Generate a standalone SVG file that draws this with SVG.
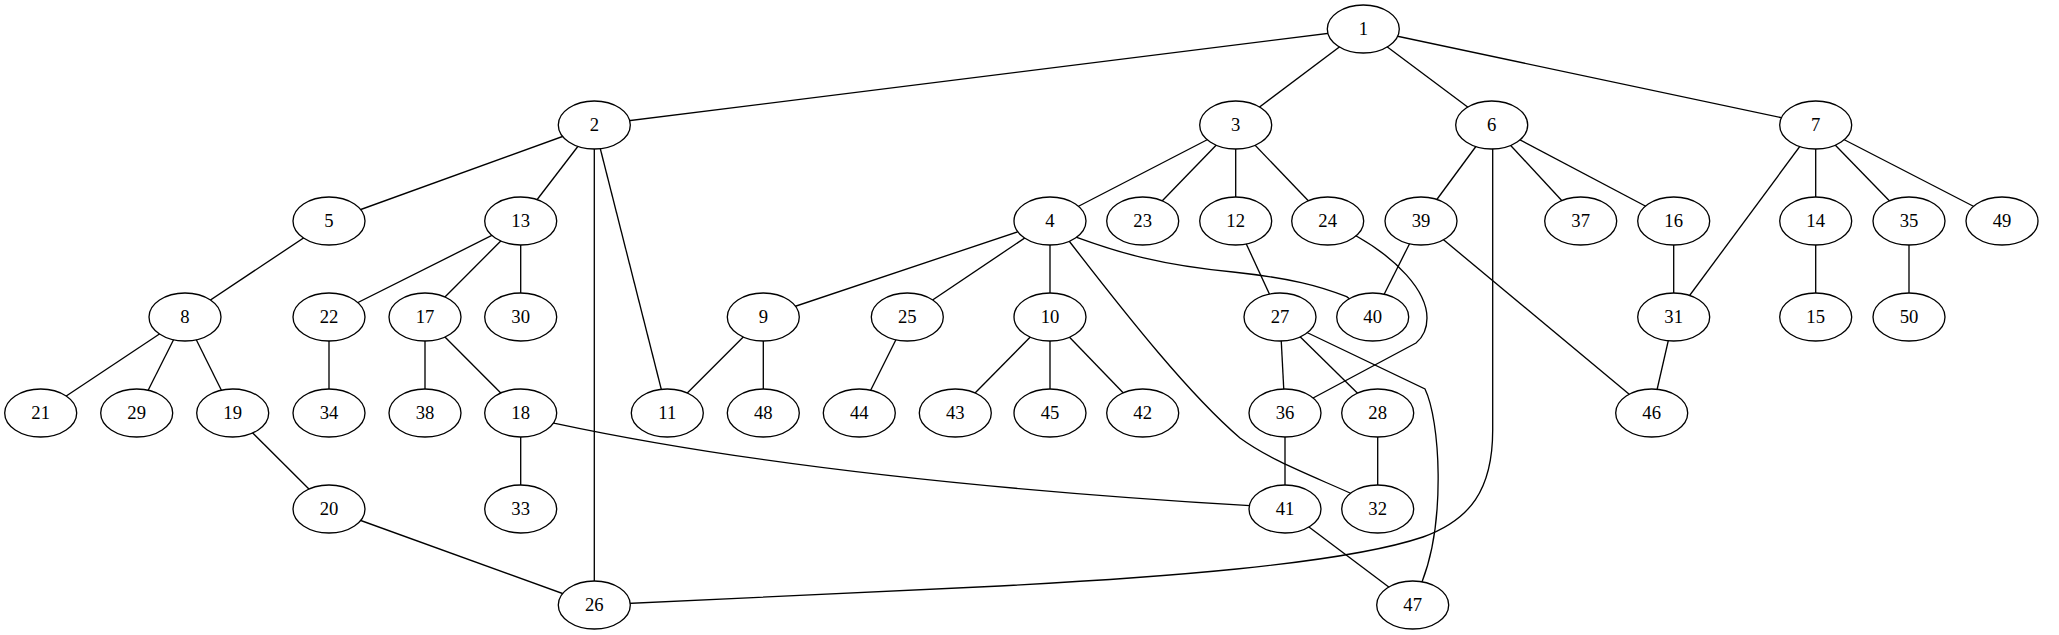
<svg xmlns="http://www.w3.org/2000/svg" width="2059" height="635" viewBox="0 0 2059 635">
<style>
.e{fill:none;stroke:#000;stroke-width:1.33}
.n ellipse{fill:#fff;stroke:#000;stroke-width:1.33}
.n text{font-family:"Liberation Serif","Times New Roman",serif;font-size:18.67px;text-anchor:middle;fill:#000}
</style>
<rect width="2059" height="635" fill="#fff"/>
<g id="edges" class="e">
<line x1="1363.3" y1="29" x2="594.3" y2="125"/>
<line x1="1363.3" y1="29" x2="1235.7" y2="125"/>
<line x1="1363.3" y1="29" x2="1491.7" y2="125"/>
<line x1="1363.3" y1="29" x2="1815.7" y2="125"/>
<line x1="594.3" y1="125" x2="329" y2="221"/>
<line x1="594.3" y1="125" x2="520.7" y2="221"/>
<line x1="594.3" y1="125" x2="594.3" y2="605"/>
<line x1="594.3" y1="125" x2="667.3" y2="413"/>
<line x1="1235.7" y1="125" x2="1050" y2="221"/>
<line x1="1235.7" y1="125" x2="1142.7" y2="221"/>
<line x1="1235.7" y1="125" x2="1235.7" y2="221"/>
<line x1="1235.7" y1="125" x2="1327.7" y2="221"/>
<line x1="1491.7" y1="125" x2="1421" y2="221"/>
<line x1="1491.7" y1="125" x2="1580.7" y2="221"/>
<line x1="1491.7" y1="125" x2="1673.7" y2="221"/>
<path d="M1492.7,125 L1492.7,430 C1492.7,490 1470,520 1423,537 C1340,565 1150,578 1000,586 L594.3,605"/>
<line x1="1815.7" y1="125" x2="1673.7" y2="317"/>
<line x1="1815.7" y1="125" x2="1815.7" y2="221"/>
<line x1="1815.7" y1="125" x2="1909" y2="221"/>
<line x1="1815.7" y1="125" x2="2002" y2="221"/>
<line x1="329" y1="221" x2="185" y2="317"/>
<line x1="520.7" y1="221" x2="329" y2="317"/>
<line x1="520.7" y1="221" x2="425" y2="317"/>
<line x1="520.7" y1="221" x2="520.7" y2="317"/>
<line x1="1050" y1="221" x2="763.3" y2="317"/>
<line x1="1050" y1="221" x2="907.3" y2="317"/>
<line x1="1050" y1="221" x2="1050" y2="317"/>
<path d="M1050,221 L1076.7,237.3 C1120,253 1160,265 1233,272 C1290,278 1320,286 1346.7,296.7 L1372.7,317"/>
<path d="M1050,221 L1066,237 C1130,320 1190,395 1240,438 C1270,460 1310,475 1350,493 L1377.7,509"/>
<line x1="1235.7" y1="221" x2="1280" y2="317"/>
<path d="M1327.7,221 L1358,237 C1395,258 1427,290 1427,318 C1427,330 1422,338 1416,343 L1285,413"/>
<line x1="1421" y1="221" x2="1372.7" y2="317"/>
<line x1="1421" y1="221" x2="1651.7" y2="413"/>
<line x1="1673.7" y1="221" x2="1673.7" y2="317"/>
<line x1="1815.7" y1="221" x2="1815.7" y2="317"/>
<line x1="1909" y1="221" x2="1909" y2="317"/>
<line x1="185" y1="317" x2="40.7" y2="413"/>
<line x1="185" y1="317" x2="136.7" y2="413"/>
<line x1="185" y1="317" x2="232.7" y2="413"/>
<line x1="329" y1="317" x2="329" y2="413"/>
<line x1="425" y1="317" x2="425" y2="413"/>
<line x1="425" y1="317" x2="520.7" y2="413"/>
<line x1="763.3" y1="317" x2="667.3" y2="413"/>
<line x1="763.3" y1="317" x2="763.3" y2="413"/>
<line x1="907.3" y1="317" x2="859.3" y2="413"/>
<line x1="1050" y1="317" x2="955.3" y2="413"/>
<line x1="1050" y1="317" x2="1050" y2="413"/>
<line x1="1050" y1="317" x2="1142.7" y2="413"/>
<line x1="1280" y1="317" x2="1285" y2="413"/>
<line x1="1280" y1="317" x2="1377.7" y2="413"/>
<path d="M1280,317 L1308,333 L1425,389 C1440,420 1446,520 1422,582 L1412.7,605"/>
<line x1="1673.7" y1="317" x2="1651.7" y2="413"/>
<line x1="232.7" y1="413" x2="329" y2="509"/>
<line x1="520.7" y1="413" x2="520.7" y2="509"/>
<path d="M520.7,413 L555,423.3 Q820,480 1250,505.7 L1285,509"/>
<line x1="1285" y1="413" x2="1285" y2="509"/>
<line x1="1377.7" y1="413" x2="1377.7" y2="509"/>
<line x1="329" y1="509" x2="594.3" y2="605"/>
<line x1="1285" y1="509" x2="1412.7" y2="605"/>
</g>
<g id="n1" class="n"><ellipse cx="1363.3" cy="29" rx="36" ry="24"/><text x="1363.3" y="35">1</text></g>
<g id="n2" class="n"><ellipse cx="594.3" cy="125" rx="36" ry="24"/><text x="594.3" y="131">2</text></g>
<g id="n3" class="n"><ellipse cx="1235.7" cy="125" rx="36" ry="24"/><text x="1235.7" y="131">3</text></g>
<g id="n6" class="n"><ellipse cx="1491.7" cy="125" rx="36" ry="24"/><text x="1491.7" y="131">6</text></g>
<g id="n7" class="n"><ellipse cx="1815.7" cy="125" rx="36" ry="24"/><text x="1815.7" y="131">7</text></g>
<g id="n5" class="n"><ellipse cx="329" cy="221" rx="36" ry="24"/><text x="329" y="227">5</text></g>
<g id="n13" class="n"><ellipse cx="520.7" cy="221" rx="36" ry="24"/><text x="520.7" y="227">13</text></g>
<g id="n4" class="n"><ellipse cx="1050" cy="221" rx="36" ry="24"/><text x="1050" y="227">4</text></g>
<g id="n23" class="n"><ellipse cx="1142.7" cy="221" rx="36" ry="24"/><text x="1142.7" y="227">23</text></g>
<g id="n12" class="n"><ellipse cx="1235.7" cy="221" rx="36" ry="24"/><text x="1235.7" y="227">12</text></g>
<g id="n24" class="n"><ellipse cx="1327.7" cy="221" rx="36" ry="24"/><text x="1327.7" y="227">24</text></g>
<g id="n39" class="n"><ellipse cx="1421" cy="221" rx="36" ry="24"/><text x="1421" y="227">39</text></g>
<g id="n37" class="n"><ellipse cx="1580.7" cy="221" rx="36" ry="24"/><text x="1580.7" y="227">37</text></g>
<g id="n16" class="n"><ellipse cx="1673.7" cy="221" rx="36" ry="24"/><text x="1673.7" y="227">16</text></g>
<g id="n14" class="n"><ellipse cx="1815.7" cy="221" rx="36" ry="24"/><text x="1815.7" y="227">14</text></g>
<g id="n35" class="n"><ellipse cx="1909" cy="221" rx="36" ry="24"/><text x="1909" y="227">35</text></g>
<g id="n49" class="n"><ellipse cx="2002" cy="221" rx="36" ry="24"/><text x="2002" y="227">49</text></g>
<g id="n8" class="n"><ellipse cx="185" cy="317" rx="36" ry="24"/><text x="185" y="323">8</text></g>
<g id="n22" class="n"><ellipse cx="329" cy="317" rx="36" ry="24"/><text x="329" y="323">22</text></g>
<g id="n17" class="n"><ellipse cx="425" cy="317" rx="36" ry="24"/><text x="425" y="323">17</text></g>
<g id="n30" class="n"><ellipse cx="520.7" cy="317" rx="36" ry="24"/><text x="520.7" y="323">30</text></g>
<g id="n9" class="n"><ellipse cx="763.3" cy="317" rx="36" ry="24"/><text x="763.3" y="323">9</text></g>
<g id="n25" class="n"><ellipse cx="907.3" cy="317" rx="36" ry="24"/><text x="907.3" y="323">25</text></g>
<g id="n10" class="n"><ellipse cx="1050" cy="317" rx="36" ry="24"/><text x="1050" y="323">10</text></g>
<g id="n27" class="n"><ellipse cx="1280" cy="317" rx="36" ry="24"/><text x="1280" y="323">27</text></g>
<g id="n40" class="n"><ellipse cx="1372.7" cy="317" rx="36" ry="24"/><text x="1372.7" y="323">40</text></g>
<g id="n31" class="n"><ellipse cx="1673.7" cy="317" rx="36" ry="24"/><text x="1673.7" y="323">31</text></g>
<g id="n15" class="n"><ellipse cx="1815.7" cy="317" rx="36" ry="24"/><text x="1815.7" y="323">15</text></g>
<g id="n50" class="n"><ellipse cx="1909" cy="317" rx="36" ry="24"/><text x="1909" y="323">50</text></g>
<g id="n21" class="n"><ellipse cx="40.7" cy="413" rx="36" ry="24"/><text x="40.7" y="419">21</text></g>
<g id="n29" class="n"><ellipse cx="136.7" cy="413" rx="36" ry="24"/><text x="136.7" y="419">29</text></g>
<g id="n19" class="n"><ellipse cx="232.7" cy="413" rx="36" ry="24"/><text x="232.7" y="419">19</text></g>
<g id="n34" class="n"><ellipse cx="329" cy="413" rx="36" ry="24"/><text x="329" y="419">34</text></g>
<g id="n38" class="n"><ellipse cx="425" cy="413" rx="36" ry="24"/><text x="425" y="419">38</text></g>
<g id="n18" class="n"><ellipse cx="520.7" cy="413" rx="36" ry="24"/><text x="520.7" y="419">18</text></g>
<g id="n11" class="n"><ellipse cx="667.3" cy="413" rx="36" ry="24"/><text x="667.3" y="419">11</text></g>
<g id="n48" class="n"><ellipse cx="763.3" cy="413" rx="36" ry="24"/><text x="763.3" y="419">48</text></g>
<g id="n44" class="n"><ellipse cx="859.3" cy="413" rx="36" ry="24"/><text x="859.3" y="419">44</text></g>
<g id="n43" class="n"><ellipse cx="955.3" cy="413" rx="36" ry="24"/><text x="955.3" y="419">43</text></g>
<g id="n45" class="n"><ellipse cx="1050" cy="413" rx="36" ry="24"/><text x="1050" y="419">45</text></g>
<g id="n42" class="n"><ellipse cx="1142.7" cy="413" rx="36" ry="24"/><text x="1142.7" y="419">42</text></g>
<g id="n36" class="n"><ellipse cx="1285" cy="413" rx="36" ry="24"/><text x="1285" y="419">36</text></g>
<g id="n28" class="n"><ellipse cx="1377.7" cy="413" rx="36" ry="24"/><text x="1377.7" y="419">28</text></g>
<g id="n46" class="n"><ellipse cx="1651.7" cy="413" rx="36" ry="24"/><text x="1651.7" y="419">46</text></g>
<g id="n20" class="n"><ellipse cx="329" cy="509" rx="36" ry="24"/><text x="329" y="515">20</text></g>
<g id="n33" class="n"><ellipse cx="520.7" cy="509" rx="36" ry="24"/><text x="520.7" y="515">33</text></g>
<g id="n41" class="n"><ellipse cx="1285" cy="509" rx="36" ry="24"/><text x="1285" y="515">41</text></g>
<g id="n32" class="n"><ellipse cx="1377.7" cy="509" rx="36" ry="24"/><text x="1377.7" y="515">32</text></g>
<g id="n26" class="n"><ellipse cx="594.3" cy="605" rx="36" ry="24"/><text x="594.3" y="611">26</text></g>
<g id="n47" class="n"><ellipse cx="1412.7" cy="605" rx="36" ry="24"/><text x="1412.7" y="611">47</text></g>
</svg>
